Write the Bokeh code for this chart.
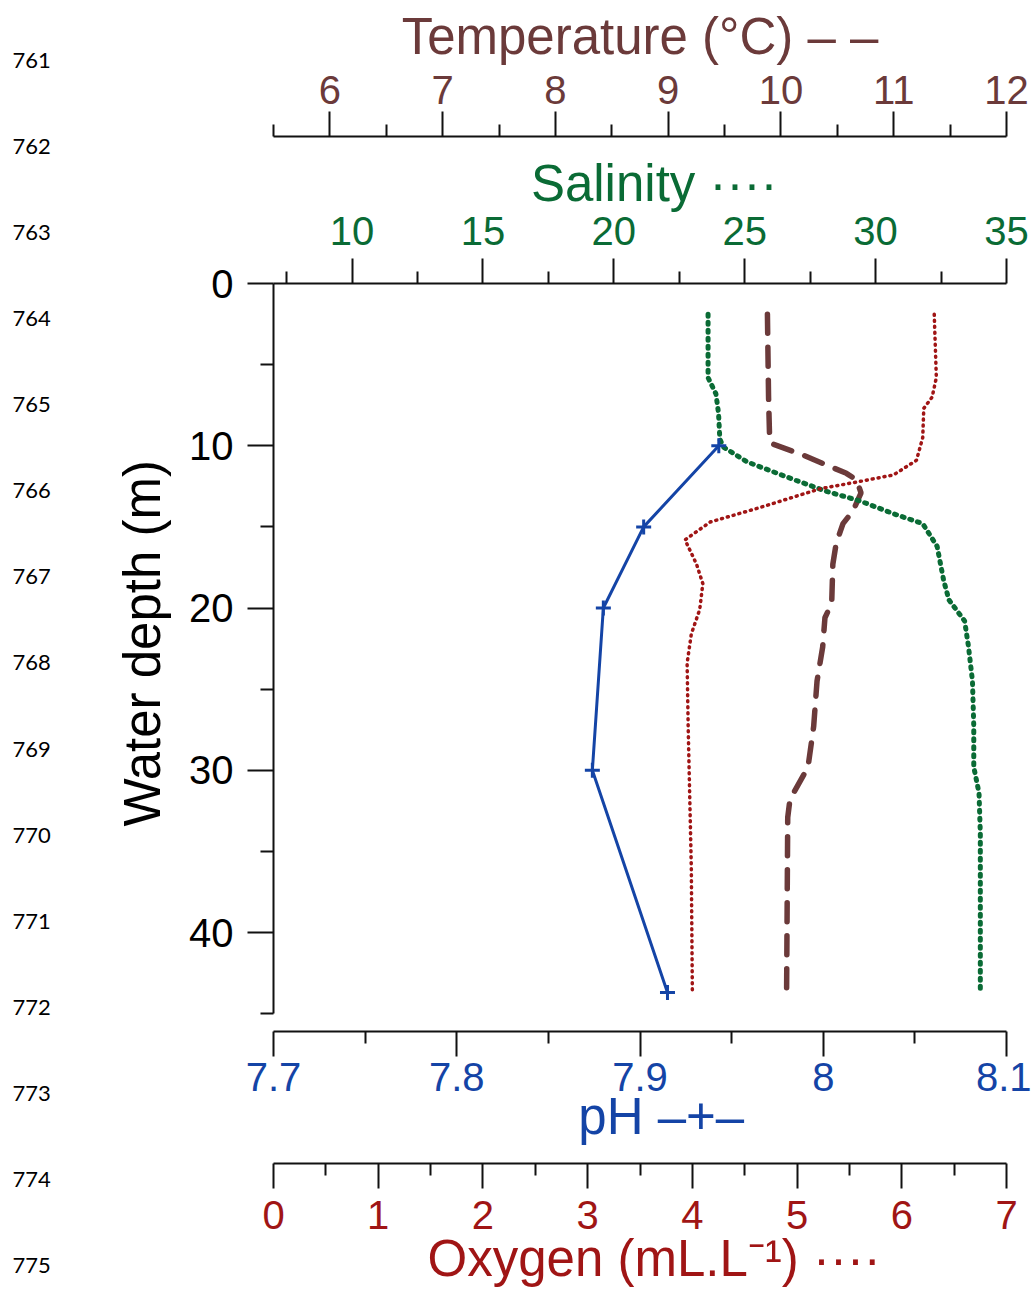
from bokeh.plotting import figure
from bokeh.models import Range1d, LinearAxis, FixedTicker, NumeralTickFormatter
from bokeh.layouts import column, row
from bokeh.embed import file_html
from bokeh.resources import INLINE
from bokeh.core.properties import value

# ---------------- data ----------------
temp_depth = [1.9, 7.0, 9.7, 9.9, 10.5, 11.7, 12.1, 12.9, 14.0, 14.8, 16.0, 17.3,
              19.7, 20.6, 22.4, 24.5, 27.3, 29.8, 31.8, 32.9, 43.6]
temp = [9.88, 9.89, 9.90, 9.93, 10.17, 10.58, 10.67, 10.71, 10.64, 10.55, 10.49, 10.46,
        10.45, 10.39, 10.37, 10.32, 10.29, 10.24, 10.08, 10.06, 10.05]

sal_depth = [1.9, 4.0, 5.8, 6.8, 8.0, 9.6, 10.1, 11.0, 12.1, 12.8, 13.4, 14.2, 14.8,
             16.2, 18.3, 19.5, 20.8, 22.4, 24.5, 27.3, 29.8, 31.4, 33.9, 43.6]
sal = [23.6, 23.6, 23.6, 23.9, 24.0, 24.05, 24.2, 25.1, 26.9, 28.1, 29.4, 30.7, 31.8,
       32.35, 32.6, 32.8, 33.4, 33.55, 33.7, 33.75, 33.75, 33.95, 34.0, 34.0]

oxy_depth = [1.9, 5.8, 7.0, 7.7, 9.5, 10.9, 11.8, 12.2, 12.65, 13.8, 14.7, 15.8, 17.3,
             18.5, 20.1, 21.6, 23.4, 27.3, 36.0, 43.6]
oxy = [6.31, 6.33, 6.29, 6.21, 6.20, 6.14, 5.92, 5.60, 5.22, 4.65, 4.17, 3.93, 4.04,
       4.10, 4.07, 3.99, 3.95, 3.96, 3.99, 4.00]

ph_depth = [10, 15, 20, 30, 43.7]
ph = [7.943, 7.902, 7.880, 7.874, 7.915]

depth_ticks = [0, 10, 20, 30, 40]
depth_minor = [5, 15, 25, 35, 45]
temp_ticks = [6, 7, 8, 9, 10, 11, 12]
temp_minor = [5.5, 6.5, 7.5, 8.5, 9.5, 10.5, 11.5]
sal_ticks = [10, 15, 20, 25, 30, 35]
sal_minor = [7.5, 12.5, 17.5, 22.5, 27.5, 32.5]
ph_ticks = [7.7, 7.8, 7.9, 8.0, 8.1]
ph_minor = [7.75, 7.85, 7.95, 8.05]
oxy_ticks = [0, 1, 2, 3, 4, 5, 6, 7]
oxy_minor = [0.5, 1.5, 2.5, 3.5, 4.5, 5.5, 6.5]

line_numbers = ["761", "762", "763", "764", "765", "766", "767", "768",
                "769", "770", "771", "772", "773", "774", "775"]

# ---------------- styles / layout ----------------
TEMP_C = "#6B3A3A"
SAL_C = "#0A6B35"
OXY_C = "#A01515"
PH_C = "#1444A6"
FONT = "Liberation Sans"
TICK_FS = "40px"
TITLE_FS = "51px"
NB = "\u00a0"

W, H = 1031, 1289
LN_W = 60               # strip holding the manuscript line numbers
FL, FR = 273, 1006      # plot frame left / right (page pixels)
T_BOTTOM = 138          # end of top strip
TEMP_AXIS_Y = 136
FRAME_TOP, FRAME_BOTTOM = 283, 1031
M_BOTTOM = 1148
OXY_AXIS_Y = 1163
MW = W - LN_W


def style_axis(ax, color, ticks, minor, tick_standoff, label_standoff):
    ax.ticker = FixedTicker(ticks=ticks, minor_ticks=minor)
    ax.major_tick_out = 25
    ax.major_tick_in = 0
    ax.minor_tick_out = 12
    ax.minor_tick_in = 0
    for attr in ("axis_line", "major_tick_line", "minor_tick_line"):
        setattr(ax, attr + "_width", 2)
        setattr(ax, attr + "_color", "#111111")
    ax.major_label_text_font = FONT
    ax.major_label_text_font_size = TICK_FS
    ax.major_label_text_color = color
    ax.major_label_standoff = tick_standoff
    ax.axis_label_text_font = FONT
    ax.axis_label_text_font_size = TITLE_FS
    ax.axis_label_text_font_style = "normal"
    ax.axis_label_text_color = color
    ax.axis_label_standoff = label_standoff


def base_fig(width, height, x_range, y_range, left, right, top, bottom):
    f = figure(width=width, height=height, x_range=x_range, y_range=y_range,
               output_backend="svg", toolbar_location=None,
               x_axis_location=None, y_axis_location=None,
               min_border_left=left, min_border_right=right,
               min_border_top=top, min_border_bottom=bottom)
    f.outline_line_color = None
    f.grid.visible = False
    f.background_fill_color = "white"
    f.border_fill_color = "white"
    return f


temp_range = Range1d(5.5, 12)
sal_range = Range1d(7, 35)
oxy_range = Range1d(0, 7)
ph_range = Range1d(7.7, 8.1)

# ---- top strip: temperature axis ----
ft = base_fig(MW, T_BOTTOM, temp_range, Range1d(0, 1), FL - LN_W, W - FR, TEMP_AXIS_Y, 0)
ax_t = LinearAxis(axis_label="Temperature (°C) \u2013 \u2013")
style_axis(ax_t, TEMP_C, temp_ticks, temp_minor, 8, 8)
ft.add_layout(ax_t, "above")

# ---- main figure ----
depth_max = (FRAME_BOTTOM - FRAME_TOP) / 16.225
fm = base_fig(MW, M_BOTTOM - T_BOTTOM, ph_range, Range1d(depth_max, 0),
              FL - LN_W, W - FR, FRAME_TOP - T_BOTTOM, M_BOTTOM - FRAME_BOTTOM)
fm.extra_x_ranges = {"temp": temp_range, "sal": sal_range, "oxy": oxy_range}

ax_y = LinearAxis(axis_label=NB * 2 + "Water depth (m)")
style_axis(ax_y, "black", depth_ticks, depth_minor, 14, 15)
ax_y.major_tick_out = 26
ax_y.minor_tick_out = 13
ax_y.bounds = (0, 45)
fm.add_layout(ax_y, "left")

ax_s = LinearAxis(x_range_name="sal", axis_label=NB * 2 + "Salinity \u00b7\u00b7\u00b7\u00b7")
style_axis(ax_s, SAL_C, sal_ticks, sal_minor, 14, 2)
fm.add_layout(ax_s, "above")

ax_p = LinearAxis(axis_label=NB * 3 + "pH \u2013+\u2013")
style_axis(ax_p, PH_C, ph_ticks, ph_minor, 6, -6)
ax_p.formatter = NumeralTickFormatter(format="0.[0]")
fm.add_layout(ax_p, "below")

fm.line(temp, temp_depth, x_range_name="temp", line_color=TEMP_C, line_width=5.5,
        line_dash="19 14", line_cap="round")
fm.line(sal, sal_depth, x_range_name="sal", line_color=SAL_C, line_width=5,
        line_dash="2 6", line_cap="round")
fm.line(oxy, oxy_depth, x_range_name="oxy", line_color=OXY_C, line_width=3.5,
        line_dash="1 5", line_cap="round")
fm.line(ph, ph_depth, line_color=PH_C, line_width=3)
fm.scatter(ph, ph_depth, marker="cross", size=15, line_color=PH_C, line_width=3)

# ---- bottom strip: oxygen axis ----
fb = base_fig(MW, H - M_BOTTOM, oxy_range, Range1d(0, 1), FL - LN_W, W - FR,
              OXY_AXIS_Y - M_BOTTOM, H - OXY_AXIS_Y)
ax_o = LinearAxis(axis_label=NB * 2 + "Oxygen (mL.L\u207b\u00b9) \u00b7\u00b7\u00b7\u00b7")
style_axis(ax_o, OXY_C, oxy_ticks, oxy_minor, 12, -2)
fb.add_layout(ax_o, "below")

# ---- manuscript line numbers (left strip, page-pixel coordinates) ----
fl = base_fig(LN_W, H, Range1d(0, LN_W), Range1d(H, 0), 0, 0, 0, 0)
ln_y = [60 + i * 86.07 for i in range(len(line_numbers))]
fl.text(x=[12] * len(line_numbers), y=ln_y, text=line_numbers,
        text_font=value("Lato"), text_font_size="22px", text_color="black",
        text_baseline="middle", text_align="left")

layout = row(fl, column(ft, fm, fb, spacing=0), spacing=0)
open("out.html", "w").write(file_html(layout, INLINE))
